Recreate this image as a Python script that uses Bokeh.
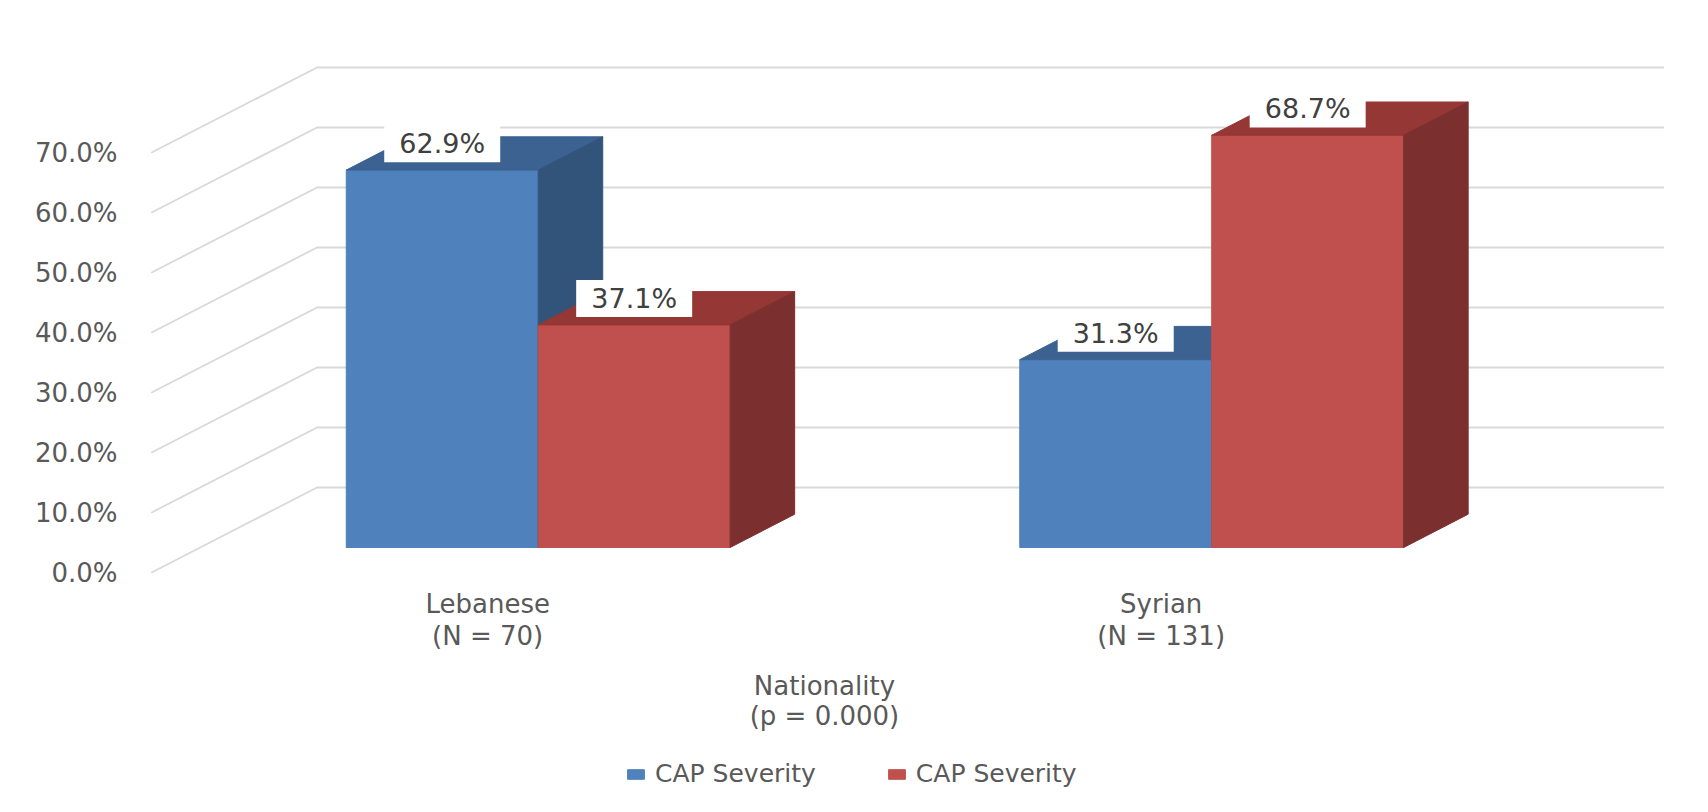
from bokeh.plotting import figure
from bokeh.models import (Range1d, LinearAxis, FixedTicker, PrintfTickFormatter,
                          Legend, LegendItem)
from bokeh.core.properties import value
from bokeh.embed import file_html
from bokeh.resources import INLINE

# ---------------- data ----------------
categories = ["Lebanese", "Syrian"]
group_sizes = ["(N = 70)", "(N = 131)"]
series_names = ["CAP Severity", "CAP Severity"]
blue_values = [62.9, 31.3]
red_values = [37.1, 68.7]
y_ticks = [0, 10, 20, 30, 40, 50, 60, 70]
axis_title = ["Nationality", "(p = 0.000)"]

# ---------------- style / geometry ----------------
FONT = value("DejaVu Sans")
BAR_W = 0.285          # width of a bar (category units)
DEPTH_X = 0.0958       # oblique depth of a bar (x, category units)
DEPTH_Y = 5.55         # oblique depth of a bar (y, percent units)
FRONT_DY = -4.2        # front plane offset vs bar front (percent)
BACK_DY = 10.0         # back wall offset vs bar front (percent)
X_FRONT, X_BACK, X_RIGHT = -0.5746, -0.3284, 1.6716
LABEL_DX = -0.075
BLUE = ("#4F81BD", "#3C6291", "#32547A")
RED = ("#C0504D", "#943735", "#7B2F2E")
GRID = "#D9D9D9"
TXT = "#595959"

Y0, Y1 = -41.5, 91.167
p = figure(width=1692, height=796,
           x_range=Range1d(-0.61574, 1.71388),
           y_range=Range1d(Y0, Y1),
           output_backend="svg", toolbar_location=None,
           x_axis_location=None, y_axis_location=None,
           min_border_left=123, min_border_right=0,
           min_border_top=0, min_border_bottom=0,
           outline_line_color=None)
p.grid.visible = False
p.background_fill_color = "white"

# y axis on the front plane
p.extra_y_ranges = {"front": Range1d(Y0 - FRONT_DY, Y1 - FRONT_DY)}
yaxis = LinearAxis(y_range_name="front", ticker=FixedTicker(ticks=y_ticks),
                   formatter=PrintfTickFormatter(format="%.1f%%"),
                   axis_line_color=None, major_tick_line_color=None,
                   minor_tick_line_color=None, major_tick_out=0, major_tick_in=0,
                   major_label_text_font="DejaVu Sans",
                   major_label_text_font_size="26px",
                   major_label_text_color=TXT, major_label_standoff=6)
p.add_layout(yaxis, "left")

# gridlines: diagonal floor part + back wall part
gx, gy = [], []
for v in y_ticks:
    gx.append([X_FRONT, X_BACK, X_RIGHT])
    gy.append([v + FRONT_DY, v + BACK_DY, v + BACK_DY])
p.multi_line(gx, gy, line_color=GRID, line_width=1.8)

# bars
renderers = []
for s, (vals, cols) in enumerate([(blue_values, BLUE), (red_values, RED)]):
    left = [i - BAR_W + s * BAR_W for i in range(len(categories))]
    right = [l + BAR_W for l in left]
    front = p.quad(left=left, right=right, bottom=0, top=vals,
                   fill_color=cols[0], line_color=cols[0], line_width=1)
    renderers.append(front)
    tops_x = [[l, r, r + DEPTH_X, l + DEPTH_X] for l, r in zip(left, right)]
    tops_y = [[h, h, h + DEPTH_Y, h + DEPTH_Y] for h in vals]
    p.patches(tops_x, tops_y, fill_color=cols[1], line_color=cols[1], line_width=1)
    side_x = [[r, r + DEPTH_X, r + DEPTH_X, r] for r in right]
    side_y = [[0, DEPTH_Y, h + DEPTH_Y, h] for h in vals]
    p.patches(side_x, side_y, fill_color=cols[2], line_color=cols[2], line_width=1)

# data labels
for s, vals in enumerate([blue_values, red_values]):
    cx = [i - BAR_W / 2 + s * BAR_W for i in range(len(categories))]
    cy = [h + 4.4 for h in vals]
    p.rect(x=cx, y=cy, width=116, height=37, width_units="screen",
           height_units="screen", fill_color="white", line_color=None)
    p.text(x=cx, y=cy, text=["%.1f%%" % h for h in vals], text_font=FONT,
           text_font_size=value("27px"), text_color="#404040",
           text_align="center", text_baseline="middle")

# category labels
catx = [i + LABEL_DX for i in range(len(categories))]
p.text(x=catx, y=[-9.4] * 2, text=categories, text_font=FONT,
       text_font_size=value("26px"), text_color=TXT,
       text_align="center", text_baseline="middle")
p.text(x=catx, y=[-14.8] * 2, text=group_sizes, text_font=FONT,
       text_font_size=value("26px"), text_color=TXT,
       text_align="center", text_baseline="middle")

# axis title
midx = (len(categories) - 1) / 2 + LABEL_DX
p.text(x=[midx, midx], y=[-23.0, -28.0], text=axis_title, text_font=FONT,
       text_font_size=value("26px"), text_color=TXT,
       text_align="center", text_baseline="middle")

# legend
legend = Legend(items=[LegendItem(label=series_names[0], renderers=[renderers[0]]),
                       LegendItem(label=series_names[1], renderers=[renderers[1]])],
                orientation="horizontal", location=(502, 8),
                glyph_width=21, glyph_height=12, label_standoff=9, spacing=70,
                padding=0, margin=0, border_line_color=None,
                background_fill_alpha=0,
                label_text_font="DejaVu Sans", label_text_font_size="25px",
                label_text_color=TXT)
p.add_layout(legend)

open("out.html", "w").write(file_html(p, INLINE))
